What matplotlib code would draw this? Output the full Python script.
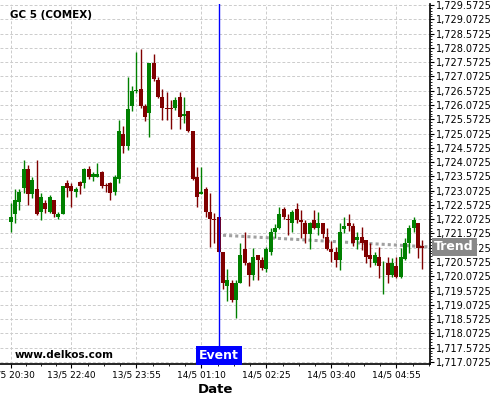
import numpy as np
import matplotlib
matplotlib.use("Agg")
import matplotlib.pyplot as plt
from matplotlib import ticker, transforms

# 5 minute candles, GC (COMEX)
opens = [1721.96, 1722.25, 1722.66, 1723.16, 1723.82, 1722.94, 1723.12, 1722.32, 1722.63, 1722.32,
         1722.73, 1722.14, 1722.24, 1723.33, 1723.22, 1723.01, 1723.36, 1723.33, 1723.82, 1723.54,
         1723.54, 1723.71, 1723.26, 1723.33, 1723.01, 1723.47, 1725.05, 1724.63, 1726.03, 1726.55,
         1726.62, 1726.03, 1725.78, 1727.53, 1726.94, 1726.34, 1725.96, 1725.96, 1725.96, 1726.34,
         1725.68, 1725.85, 1725.15, 1723.54, 1722.95, 1723.12, 1722.31, 1722.07, 1722.14, 1720.91,
         1719.73, 1719.83, 1719.24, 1719.83, 1721.02, 1720.53, 1720.11, 1720.81, 1720.64, 1720.32,
         1720.91, 1721.61, 1721.75, 1722.42, 1722.07, 1721.93, 1722.42, 1722.03, 1721.93, 1721.54,
         1722.03, 1721.75, 1721.93, 1721.44, 1721.02, 1720.91, 1720.64, 1721.72, 1721.93, 1721.82,
         1721.33, 1721.44, 1721.33, 1720.81, 1720.53, 1720.74, 1720.56, 1720.53, 1720.11, 1720.43,
         1720.04, 1720.67, 1721.23, 1721.75, 1721.93, 1721.12]
highs = [1722.63, 1723.12, 1723.12, 1724.13, 1723.96, 1723.54, 1724.13, 1722.98, 1722.73, 1722.91,
         1722.73, 1722.31, 1723.22, 1723.43, 1723.33, 1723.19, 1723.40, 1723.86, 1723.92, 1723.71,
         1724.03, 1723.75, 1723.33, 1723.36, 1723.61, 1725.53, 1725.33, 1727.04, 1726.73, 1727.92,
         1728.02, 1726.10, 1727.53, 1727.85, 1727.04, 1726.62, 1726.52, 1726.24, 1726.34, 1726.52,
         1726.34, 1725.85, 1725.15, 1723.89, 1723.89, 1723.19, 1722.98, 1722.28, 1722.14, 1720.91,
         1720.32, 1719.94, 1719.94, 1721.23, 1721.61, 1720.57, 1721.05, 1720.81, 1720.74, 1721.09,
         1721.75, 1721.89, 1722.49, 1722.49, 1722.24, 1722.38, 1722.63, 1722.38, 1722.03, 1721.96,
         1722.38, 1722.31, 1721.93, 1721.75, 1721.30, 1721.09, 1721.93, 1722.14, 1722.24, 1721.93,
         1721.61, 1721.79, 1721.33, 1721.23, 1720.91, 1721.09, 1720.60, 1720.74, 1720.70, 1720.74,
         1721.05, 1721.40, 1721.86, 1722.14, 1721.93, 1721.33]
lows = [1721.61, 1721.93, 1722.38, 1722.98, 1722.56, 1722.80, 1722.21, 1722.03, 1722.28, 1722.28,
        1722.14, 1722.07, 1722.24, 1722.84, 1722.49, 1722.84, 1722.94, 1723.16, 1723.47, 1723.40,
        1723.54, 1723.16, 1723.01, 1722.73, 1722.91, 1723.33, 1724.38, 1724.49, 1725.85, 1726.48,
        1725.96, 1725.50, 1724.94, 1726.90, 1726.31, 1725.54, 1725.54, 1725.22, 1725.89, 1725.22,
        1725.43, 1725.12, 1723.44, 1722.49, 1722.94, 1722.14, 1721.09, 1721.23, 1720.91, 1719.62,
        1719.20, 1719.17, 1718.60, 1719.83, 1720.46, 1719.73, 1719.94, 1719.94, 1720.29, 1720.22,
        1720.81, 1721.40, 1721.72, 1722.07, 1721.51, 1721.61, 1721.93, 1721.40, 1721.23, 1721.02,
        1721.72, 1721.51, 1721.40, 1720.98, 1720.57, 1720.39, 1720.29, 1721.58, 1721.65, 1721.12,
        1721.02, 1720.98, 1720.53, 1720.39, 1720.46, 1720.00, 1719.45, 1719.83, 1720.04, 1720.00,
        1720.00, 1720.64, 1720.88, 1721.61, 1720.70, 1720.32]
closes = [1722.14, 1722.73, 1723.01, 1723.82, 1722.94, 1723.43, 1722.24, 1722.84, 1722.42, 1722.84,
          1722.24, 1722.24, 1723.22, 1723.16, 1723.05, 1723.12, 1723.22, 1723.82, 1723.54, 1723.64,
          1723.64, 1723.22, 1723.22, 1722.98, 1723.54, 1725.15, 1724.63, 1725.92, 1726.55, 1726.59,
          1726.03, 1725.64, 1727.53, 1726.97, 1726.34, 1725.96, 1725.92, 1725.94, 1726.24, 1725.64,
          1725.75, 1725.15, 1723.47, 1722.84, 1723.02, 1722.31, 1722.07, 1722.05, 1720.91, 1719.83,
          1719.94, 1719.24, 1719.83, 1720.81, 1720.53, 1720.11, 1720.74, 1720.64, 1720.35, 1721.02,
          1721.61, 1721.75, 1722.24, 1722.15, 1722.03, 1722.31, 1722.03, 1721.96, 1721.54, 1721.93,
          1721.75, 1721.93, 1721.54, 1721.02, 1720.91, 1720.64, 1721.61, 1721.82, 1721.82, 1721.23,
          1721.44, 1721.23, 1720.74, 1720.67, 1720.81, 1720.43, 1720.58, 1720.11, 1720.53, 1720.04,
          1720.74, 1721.23, 1721.75, 1722.03, 1721.05, 1721.05]

tick_idx = [0, 14, 29, 44, 59, 74, 89]
tick_labels = ["13/5 20:30", "13/5 22:40", "13/5 23:55", "14/5 01:10",
               "14/5 02:25", "14/5 03:40", "14/5 04:55"]

event_idx = 48
trend_x = [49, 96.8]
trend_y = [1721.51, 1721.10]

green = "#008000"
red = "#800000"

fig = plt.figure(figsize=(5, 4), dpi=100)
ax = fig.add_axes([0.0, 0.09, 0.86, 0.90])

o = np.array(opens)
h = np.array(highs)
l = np.array(lows)
c = np.array(closes)
x = np.arange(len(o))
up = c >= o
cols = np.where(up, green, red)

# wicks then bodies
ax.vlines(x, l, h, colors=cols, linewidth=1.0, zorder=3)
body_bot = np.minimum(o, c)
body_h = np.maximum(np.abs(c - o), 0.03)
ax.bar(x, body_h, bottom=body_bot, width=0.9, color=cols, linewidth=0, zorder=4)

# trend
ax.plot(trend_x, trend_y, color="#a0a0a0", linestyle=(0, (1, 1)), linewidth=2.2, zorder=2)

# event line
ax.axvline(event_idx, color="#0000ff", linewidth=1.0, zorder=5)

ax.set_xlim(-2.47, 96.77)
ax.set_ylim(1717.0025, 1729.6075)

ax.yaxis.tick_right()
ax.set_yticks(np.arange(1717.0725, 1729.6, 0.5))
ax.yaxis.set_major_formatter(ticker.FuncFormatter(lambda v, p: f"{v:,.4f}"))
ax.yaxis.set_minor_locator(ticker.AutoMinorLocator(5))

ax.set_xticks(tick_idx)
ax.set_xticklabels(tick_labels)
minor = []
for a, b in zip(tick_idx[:-1], tick_idx[1:]):
    minor += list(np.linspace(a, b, 5)[1:-1])
step = (tick_idx[-1] - tick_idx[-2]) / 4
minor += [tick_idx[-1] + step * k for k in range(1, 3)]
minor += [tick_idx[0] - step]
ax.xaxis.set_minor_locator(ticker.FixedLocator(minor))

ax.tick_params(axis="y", which="major", labelsize=7, length=3, width=0.8, pad=1)
ax.tick_params(axis="y", which="minor", length=1.5, width=0.6)
ax.tick_params(axis="x", which="major", labelsize=6.5, length=3, width=0.8, pad=2)
ax.tick_params(axis="x", which="minor", length=1.5, width=0.6)

ax.grid(True, which="major", linestyle=(0, (3, 2)), color="#cccccc", linewidth=0.7)
ax.set_axisbelow(True)

for s in ["left", "top"]:
    ax.spines[s].set_visible(False)
ax.spines["right"].set_linewidth(1.2)
ax.spines["bottom"].set_linewidth(1.2)

ax.set_xlabel("Date", fontsize=9.5, fontweight="bold", labelpad=2)

fig.text(0.02, 1 - 15.5 / 400, "GC 5 (COMEX)", fontsize=7.5, fontweight="bold", va="center")
fig.text(0.03, 1 - 354.5 / 400, "www.delkos.com", fontsize=7.5, fontweight="bold", va="center")

bx = transforms.blended_transform_factory(ax.transData, ax.transAxes)
ax.text(event_idx, 0.005, "Event", transform=bx, ha="center", va="bottom", color="white",
        fontsize=9, fontweight="bold", zorder=6,
        bbox=dict(boxstyle="square,pad=0.25", facecolor="#0000ff", edgecolor="none"))

by = transforms.blended_transform_factory(ax.transAxes, ax.transData)
ax.text(1.01, trend_y[-1], "Trend", transform=by, ha="left", va="center", color="white",
        fontsize=9, fontweight="bold", zorder=6, clip_on=False,
        bbox=dict(boxstyle="square,pad=0.22", facecolor="#888888", edgecolor="none"))

fig.savefig("out.png", dpi=100)
